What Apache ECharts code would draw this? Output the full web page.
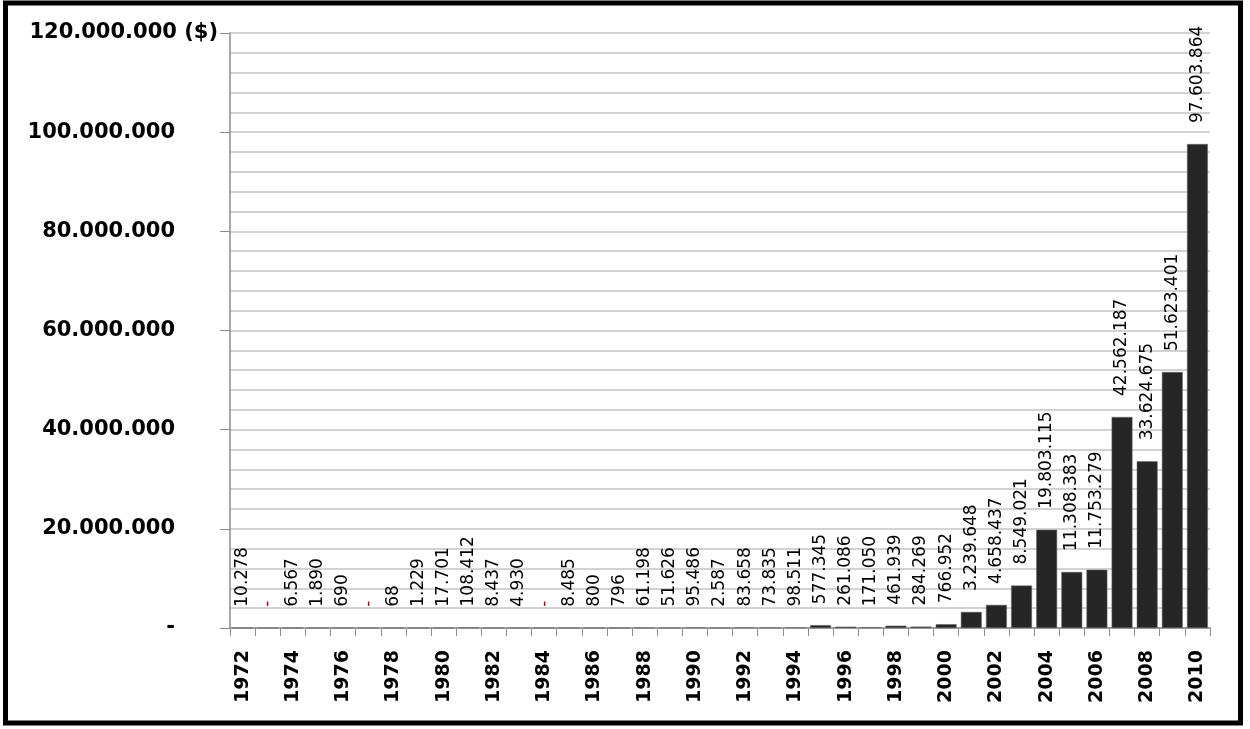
<!DOCTYPE html>
<html>
<head>
<meta charset="utf-8">
<title>Chart</title>
<script src="https://cdn.jsdelivr.net/npm/echarts@6/dist/echarts.min.js"></script>
<style>
  html, body { margin: 0; padding: 0; background: #fff; }
  #chart { width: 1250px; height: 729px; }
</style>
</head>
<body>
<div id="chart"></div>
<script>
// years on the x axis
const years = ['1972', '1973', '1974', '1975', '1976', '1977', '1978', '1979', '1980', '1981',
  '1982', '1983', '1984', '1985', '1986', '1987', '1988', '1989', '1990', '1991',
  '1992', '1993', '1994', '1995', '1996', '1997', '1998', '1999', '2000', '2001',
  '2002', '2003', '2004', '2005', '2006', '2007', '2008', '2009', '2010']

// amounts in $
const amounts = [10278, 0, 6567, 1890, 690, 0, 68, 1229, 17701, 108412,
  8437, 4930, 0, 8485, 800, 796, 61198, 51626, 95486, 2587,
  83658, 73835, 98511, 577345, 261086, 171050, 461939, 284269, 766952, 3239648,
  4658437, 8549021, 19803115, 11308383, 11753279, 42562187, 33624675, 51623401, 97603864]

// y axis range
const yMin = 0
const yMax = 120000000
const yStep = 20000000
const yUnit = '($)'

const FONT = 'DejaVu Sans'

// 1.234.567 style
const fmt = function (v) {
  return String(v).replace(/\B(?=(\d{3})+(?!\d))/g, '.')
}

const chart = echarts.init(document.getElementById('chart'))

const option = {
  backgroundColor: '#fff',
  animation: false,
  grid: { left: 230, right: 40, top: 33, bottom: 101 },
  graphic: [{
    type: 'rect',
    shape: { x: 5.5, y: 3, width: 1235, height: 720 },
    style: { fill: 'none', stroke: '#000', lineWidth: 5 },
    z: 100
  }],
  xAxis: {
    type: 'category',
    data: years,
    axisLine: { lineStyle: { color: '#8c8c8c', width: 1.5 } },
    axisTick: { show: true, interval: 0, length: 8, lineStyle: { color: '#8c8c8c' } },
    axisLabel: {
      interval: 1,
      rotate: 90,
      margin: 22,
      fontFamily: FONT,
      fontWeight: 'bold',
      fontSize: 19,
      color: '#000'
    }
  },
  yAxis: {
    type: 'value',
    min: yMin,
    max: yMax,
    interval: yStep,
    axisLine: { show: true, lineStyle: { color: '#8c8c8c', width: 1.5 } },
    axisTick: { show: true, length: 10, lineStyle: { color: '#8c8c8c' } },
    minorTick: { show: false, splitNumber: 5 },
    minorSplitLine: { show: true, lineStyle: { color: '#c4c4c4', width: 1.5 } },
    splitLine: { lineStyle: { color: '#c4c4c4', width: 1.5 } },
    axisLabel: {
      margin: 12,
      formatter: function (v) {
        const txt = v === 0 ? '-' : fmt(v)
        if (v === yMax) return '{a|' + txt + '}{b| ' + yUnit + '}'
        return '{a|' + txt + '}{c|}'
      },
      rich: {
        a: { fontFamily: FONT, fontWeight: 'bold', fontSize: 21, color: '#000' },
        b: { fontFamily: FONT, fontWeight: 'bold', fontSize: 21, color: '#000' },
        c: { width: 43 }
      }
    }
  },
  series: [{
    type: 'bar',
    data: amounts,
    barCategoryGap: '17%',
    itemStyle: { color: '#262626', borderColor: '#6a6a6a', borderWidth: 0.5 },
    label: {
      show: true,
      position: 'top',
      rotate: 90,
      align: 'left',
      verticalAlign: 'middle',
      distance: 21,
      fontFamily: FONT,
      fontSize: 17,
      color: '#000',
      formatter: function (p) {
        return p.value === 0 ? '{r|-}' : fmt(p.value)
      },
      rich: {
        r: { color: '#c00000', fontFamily: FONT, fontSize: 17 }
      }
    }
  }]
}

chart.setOption(option)
</script>
</body>
</html>
